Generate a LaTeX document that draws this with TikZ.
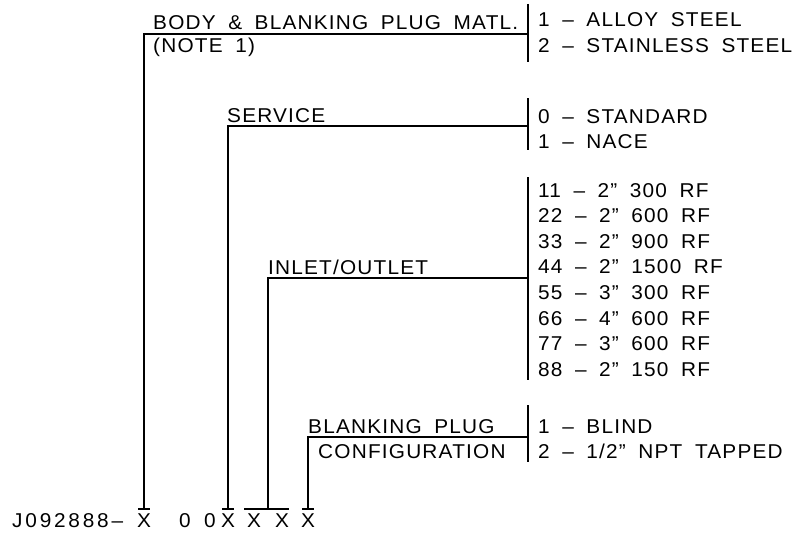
\documentclass[tikz,border=0pt]{standalone}
\usepackage{fontspec}
\newfontfamily\cadfont[FakeStretch=1.04, LetterSpace=6, WordSpace=1.8]{Liberation Sans}
\newfontfamily\cadchar[FakeStretch=1.04]{Liberation Sans}
\tikzset{
	lbl/.style = {anchor=base west, inner sep=0pt, font=\cadfont\fontsize{20pt}{24pt}\selectfont},
	chr/.style = {anchor=base, inner sep=0pt, font=\cadchar\fontsize{20pt}{24pt}\selectfont},
	ldr/.style = {line width=1.4pt}
}

\begin{document}
\begin{tikzpicture}[x=1pt, y=-1pt]
	\useasboundingbox (0,0) rectangle (806,535);
	\node [lbl] (code) at (12,527) {\addfontfeature{LetterSpace=14}J092888–};
	\node [chr] (x1) at (144,527) {X};
	\node [chr] (z1) at (185,527) {0};
	\node [chr] (z2) at (210,527) {0};
	\node [chr] (x2) at (228,527) {X};
	\node [chr] (x3) at (254,527) {X};
	\node [chr] (x4) at (282,527) {X};
	\node [chr] (x5) at (308,527) {X};
	\coordinate (t1) at (144,509);
	\coordinate (t2) at (228,509);
	\coordinate (t3) at (268,509);
	\coordinate (t5) at (308,509);
	\draw [ldr] (138,509) -- (150,509);
	\draw [ldr] (222,509) -- (234,509);
	\draw [ldr] (244,509) -- (289,509);
	\draw [ldr] (302,509) -- (314,509);

	\node [lbl] (body) at (153,30) {BODY \& BLANKING PLUG MATL.};
	\node [lbl] (note) at (153,53) {(NOTE 1)};
	\coordinate (bodyj) at (528,34);
	\draw [ldr] (t1) |- (bodyj);
	\draw [ldr] (528,4) -- (528,62);
	\node [lbl] (mat1) at (538,27) {1 – ALLOY STEEL};
	\node [lbl] (mat2) at (538,53) {2 – STAINLESS STEEL};

	\node [lbl] (serv) at (227,122) {SERVICE};
	\coordinate (servj) at (528,126);
	\draw [ldr] (t2) |- (servj);
	\draw [ldr] (528,98) -- (528,150);
	\node [lbl] (serv0) at (538,123) {0 – STANDARD};
	\node [lbl] (serv1) at (538,148) {1 – NACE};

	\node [lbl] (inout) at (268,274) {INLET/OUTLET};
	\coordinate (inoutj) at (528,278);
	\draw [ldr] (t3) |- (inoutj);
	\draw [ldr] (528,177) -- (528,380);
	\foreach \num/\size/\rating [count=\i] in {11/2/300, 22/2/600, 33/2/900, 44/2/1500, 55/3/300, 66/4/600, 77/3/600, 88/2/150}
		\node [lbl] (io\i) at (538,{197+25.6*(\i-1)}) {\num\ – \size” \rating\ RF};

	\node [lbl] (plug) at (308,433) {BLANKING PLUG};
	\node [lbl] (conf) at (318,458) {CONFIGURATION};
	\coordinate (plugj) at (528,437);
	\draw [ldr] (t5) |- (plugj);
	\draw [ldr] (528,405) -- (528,462);
	\node [lbl] (plug1) at (538,433) {1 – BLIND};
	\node [lbl] (plug2) at (538,458) {2 – 1/2” NPT TAPPED};
\end{tikzpicture}
\end{document}
